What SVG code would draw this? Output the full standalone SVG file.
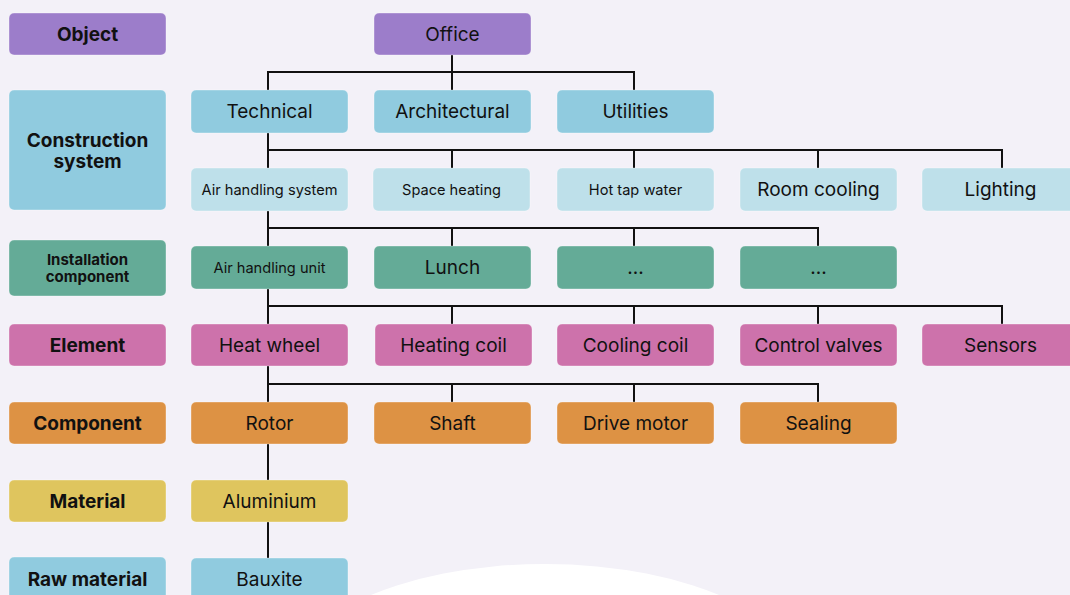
<svg xmlns="http://www.w3.org/2000/svg" width="1070" height="595" viewBox="0 0 1070 595">
<style>
text{font-family:Inter,"Noto Sans","Liberation Sans",sans-serif;fill:#111;text-anchor:middle;dominant-baseline:central}
.lbl{font-weight:700;font-size:19px}
.lbs{font-weight:700;font-size:15px}
.n{font-size:19px}
.s{font-size:14.6px}
rect{rx:5px;ry:5px;stroke:rgba(255,255,255,0.35);stroke-width:1}
.obj{fill:#9c7dca}
.con{fill:#90cbdf}
.sys{fill:#bee0ea}
.ins{fill:#64ab97}
.ele{fill:#cd72ab}
.cmp{fill:#dd9244}
.mat{fill:#dfc55e}
.raw{fill:#90cbdf}
.c{fill:none;stroke:#111;stroke-width:2}
</style>
<rect x="0" y="0" width="1070" height="595" style="fill:#f3f1f8;stroke:none;rx:0;ry:0"/>
<ellipse cx="545" cy="690" rx="265" ry="126" fill="#ffffff"/>
<g id="connectors">
<path class="c" d="M452 55V72M268 90V72H634V90M452 72V90"/>
<path class="c" d="M268 133V168M268 150H1002V168M452 150V168M634 150V168M818 150V168"/>
<path class="c" d="M268 211V246M268 228H818V246M452 228V246M634 228V246"/>
<path class="c" d="M268 289V324M268 306H1002V324M452 306V324M634 306V324M818 306V324"/>
<path class="c" d="M268 366V402M268 384H818V402M452 384V402M634 384V402"/>
<path class="c" d="M268 444V480"/>
<path class="c" d="M268 522V558"/>
</g>
<g id="lbl-object"><rect class="obj" x="9" y="13" width="157" height="42"/><text class="lbl" x="87.5" y="34">Object</text></g>
<g id="lbl-construction"><rect class="con" x="9" y="90" width="157" height="120"/><text class="lbl" x="87.5" y="140"><tspan x="87.5">Construction</tspan><tspan x="87.5" dy="21">system</tspan></text></g>
<g id="lbl-installation"><rect class="ins" x="9" y="240" width="157" height="56"/><text class="lbs" x="87.5" y="259"><tspan x="87.5">Installation</tspan><tspan x="87.5" dy="17">component</tspan></text></g>
<g id="lbl-element"><rect class="ele" x="9" y="324" width="157" height="42"/><text class="lbl" x="87.5" y="345">Element</text></g>
<g id="lbl-component"><rect class="cmp" x="9" y="402" width="157" height="42"/><text class="lbl" x="87.5" y="423">Component</text></g>
<g id="lbl-material"><rect class="mat" x="9" y="480" width="157" height="42"/><text class="lbl" x="87.5" y="501">Material</text></g>
<g id="lbl-raw"><rect class="raw" x="9" y="557" width="157" height="50"/><text class="lbl" x="87.5" y="579">Raw material</text></g>

<g id="office"><rect class="obj" x="374" y="13" width="157" height="42"/><text class="n" x="452.5" y="34">Office</text></g>

<g id="technical"><rect class="con" x="191" y="90" width="157" height="43"/><text class="n" x="269.5" y="111.5">Technical</text></g>
<g id="architectural"><rect class="con" x="374" y="90" width="157" height="43"/><text class="n" x="452.5" y="111.5">Architectural</text></g>
<g id="utilities"><rect class="con" x="557" y="90" width="157" height="43"/><text class="n" x="635.5" y="111.5">Utilities</text></g>

<g id="ahs"><rect class="sys" x="191" y="168" width="157" height="43"/><text class="s" x="269.5" y="189.5">Air handling system</text></g>
<g id="space-heating"><rect class="sys" x="373" y="168" width="157" height="43"/><text class="s" x="451.5" y="189.5">Space heating</text></g>
<g id="hot-tap"><rect class="sys" x="557" y="168" width="157" height="43"/><text class="s" x="635.5" y="189.5">Hot tap water</text></g>
<g id="room-cooling"><rect class="sys" x="740" y="168" width="157" height="43"/><text class="n" x="818.5" y="189.5">Room cooling</text></g>
<g id="lighting"><rect class="sys" x="922" y="168" width="157" height="43"/><text class="n" x="1000.5" y="189.5">Lighting</text></g>

<g id="ahu"><rect class="ins" x="191" y="246" width="157" height="43"/><text class="s" x="269.5" y="267.5">Air handling unit</text></g>
<g id="lunch"><rect class="ins" x="374" y="246" width="157" height="43"/><text class="n" x="452.5" y="267.5">Lunch</text></g>
<g id="ins-dots1"><rect class="ins" x="557" y="246" width="157" height="43"/><text class="n" x="635.5" y="267.5">...</text></g>
<g id="ins-dots2"><rect class="ins" x="740" y="246" width="157" height="43"/><text class="n" x="818.5" y="267.5">...</text></g>

<g id="heat-wheel"><rect class="ele" x="191" y="324" width="157" height="42"/><text class="n" x="269.5" y="345.5">Heat wheel</text></g>
<g id="heating-coil"><rect class="ele" x="375" y="324" width="157" height="42"/><text class="n" x="453.5" y="345.5">Heating coil</text></g>
<g id="cooling-coil"><rect class="ele" x="557" y="324" width="157" height="42"/><text class="n" x="635.5" y="345.5">Cooling coil</text></g>
<g id="control-valves"><rect class="ele" x="740" y="324" width="157" height="42"/><text class="n" x="818.5" y="345.5">Control valves</text></g>
<g id="sensors"><rect class="ele" x="922" y="324" width="157" height="42"/><text class="n" x="1000.5" y="345.5">Sensors</text></g>

<g id="rotor"><rect class="cmp" x="191" y="402" width="157" height="42"/><text class="n" x="269.5" y="423">Rotor</text></g>
<g id="shaft"><rect class="cmp" x="374" y="402" width="157" height="42"/><text class="n" x="452.5" y="423">Shaft</text></g>
<g id="drive-motor"><rect class="cmp" x="557" y="402" width="157" height="42"/><text class="n" x="635.5" y="423">Drive motor</text></g>
<g id="sealing"><rect class="cmp" x="740" y="402" width="157" height="42"/><text class="n" x="818.5" y="423">Sealing</text></g>

<g id="aluminium"><rect class="mat" x="191" y="480" width="157" height="42"/><text class="n" x="269.5" y="501">Aluminium</text></g>
<g id="bauxite"><rect class="raw" x="191" y="558" width="157" height="50"/><text class="n" x="269.5" y="579">Bauxite</text></g>
</svg>
